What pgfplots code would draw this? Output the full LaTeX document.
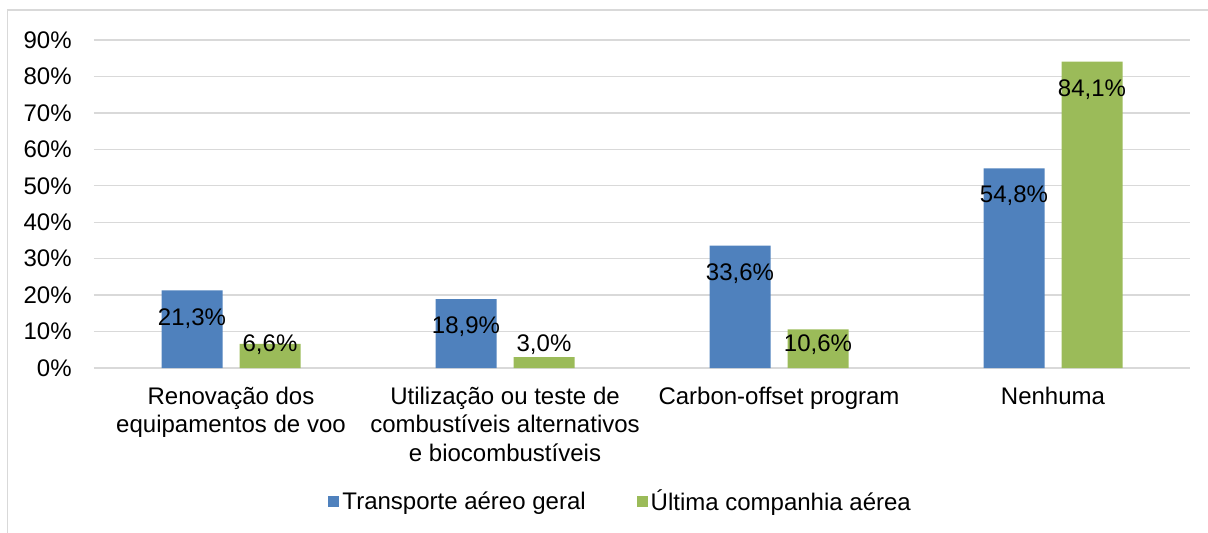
\documentclass[border=0pt]{standalone}
\usepackage{pgfplots}
\pgfplotsset{compat=1.18}
\usepackage{pgfplotstable}
\usepackage{fontspec}
\setmainfont{Liberation Sans}
\definecolor{barblue}{HTML}{4F81BD}
\definecolor{bargreen}{HTML}{9BBB59}
\definecolor{gridgray}{HTML}{D9D9D9}
\pgfplotstableread{
x a b
0 21.3 6.6
1 18.9 3.0
2 33.6 10.6
3 54.8 84.1
}\datatable
\newcommand{\cf}{\fontsize{12}{14.2}\selectfont}
\begin{document}
\begin{tikzpicture}
\useasboundingbox (-47pt,-82pt) rectangle (557pt,184pt);
\draw[gridgray, line width=0.65pt] (-43.25pt,-90pt) -- (-43.25pt,179pt) -- (570pt,179pt);
\begin{axis}[
  at={(0,0)}, anchor=south west, scale only axis,
  width=548pt, height=164pt,
  ymin=0, ymax=90, xmin=-0.5, xmax=3.5,
  ybar, bar width=30.5pt,
  axis line style={draw=none}, tick style={draw=none},
  ytick={0,10,...,90},
  yticklabels={0\%,10\%,20\%,30\%,40\%,50\%,60\%,70\%,80\%,90\%},
  ymajorgrids, grid style={gridgray, line width=0.65pt},
  xtick={0,1,2,3},
  xticklabels={{Renovação dos\\equipamentos de voo},{Utilização ou teste de\\combustíveis alternativos\\e biocombustíveis},{Carbon-offset program},{Nenhuma}},
  xticklabel style={align=center, inner sep=0pt, yshift=-5pt, font=\cf},
  yticklabel style={inner sep=0pt, xshift=-11pt, font=\cf},
  /pgf/number format/assume math mode=true,
  nodes near coords={\pgfmathprintnumber[fixed,fixed zerofill,precision=1,use comma]{\pgfplotspointmeta}\%},
  every node near coord/.append style={font=\cf, anchor=base, text=black, inner sep=0pt, yshift=\dy*1.822pt-4.3pt},
  legend style={at={(0.481,-0.4085)}, anchor=center, draw=none, font=\cf,
    legend columns=-1, /tikz/every even column/.append style={column sep=24pt},
    nodes={inner xsep=1.5pt, inner ysep=0pt}},
]
\addplot[fill=barblue, draw=none, bar shift=-19.5pt,
  visualization depends on={max(\thisrow{a}-7.15,7.0)-\thisrow{a} \as \dy},
  legend image code/.code={\fill[barblue] (0pt,-2.75pt) rectangle (5.5pt,2.75pt);}]
  table[x=x, y=a] {\datatable};
\addlegendentry{Transporte aéreo geral}
\addplot[fill=bargreen, draw=none, bar shift=19.5pt,
  visualization depends on={max(\thisrow{b}-7.15,7.0)-\thisrow{b} \as \dy},
  legend image code/.code={\fill[bargreen] (0pt,-2.75pt) rectangle (5.5pt,2.75pt);}]
  table[x=x, y=b] {\datatable};
\addlegendentry{Última companhia aérea}
\end{axis}
\end{tikzpicture}
\end{document}
